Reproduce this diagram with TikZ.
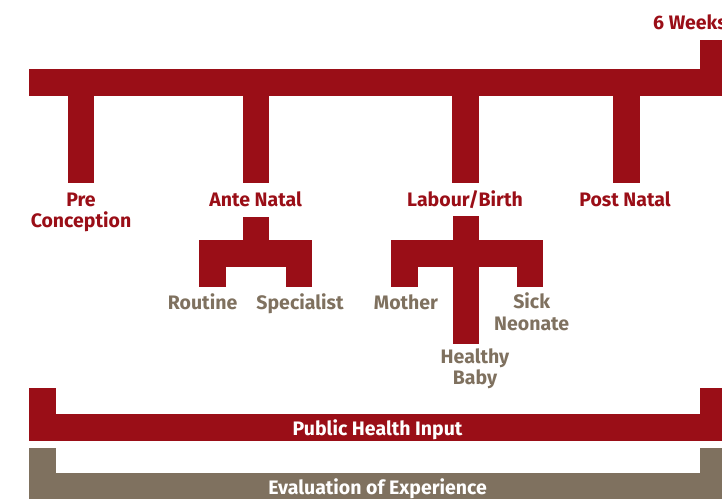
\documentclass[tikz,border=0pt]{standalone}
\usepackage{fontspec}
\setmainfont{Fira Sans}
\definecolor{nhsred}{RGB}{154,14,23}
\definecolor{taupe}{RGB}{127,113,95}
\begin{document}
\begin{tikzpicture}[x=1pt,y=-1pt,
  lbl/.style={font=\bfseries\fontsize{19.5}{21.3}\selectfont,align=center,inner sep=0pt,anchor=base},
  redlbl/.style={lbl,text=nhsred},
  greylbl/.style={lbl,text=taupe},
  whitelbl/.style={lbl,text=white}]
\useasboundingbox (0,0) rectangle (722,499);
% top timeline
\fill[nhsred] (29,69) rectangle (722,95.7);
\fill[nhsred] (700,40) rectangle (722,69);
\fill[nhsred] (67.7,95) rectangle (94.4,183);
\fill[nhsred] (242.7,95) rectangle (269.4,183);
\fill[nhsred] (451.7,95) rectangle (478.9,183);
\fill[nhsred] (612.9,95) rectangle (639.6,183);
% ante natal subtree
\fill[nhsred] (242.7,216.7) rectangle (269.4,241);
\fill[nhsred] (198.5,240.3) rectangle (312,267);
\fill[nhsred] (198.5,266) rectangle (225.6,287.3);
\fill[nhsred] (285.5,266) rectangle (312,287.3);
% labour subtree
\fill[nhsred] (452.7,216) rectangle (479.3,344);
\fill[nhsred] (391.3,240.3) rectangle (543.3,267);
\fill[nhsred] (391.3,266) rectangle (418.3,287.3);
\fill[nhsred] (516.7,266) rectangle (543.3,287.3);
% public health bar
\fill[nhsred] (29,388.3) rectangle (55.7,415);
\fill[nhsred] (700,388.3) rectangle (722,415);
\fill[nhsred] (29,414) rectangle (722,440.7);
% evaluation bar
\fill[taupe] (29,447.7) rectangle (55.7,473.7);
\fill[taupe] (700,447.7) rectangle (722,473.7);
\fill[taupe] (29,472.7) rectangle (722,499);
% labels (two-line nodes are anchored at the baseline of their last line)
\node[redlbl,anchor=base west] (weeks) at (653,29) {6 Weeks};
\node[redlbl] (pre) at (81,227.5) {Pre\\Conception};
\node[redlbl] (ante) at (255.6,206.5) {Ante Natal};
\node[redlbl] (labour) at (465,206.5) {Labour/Birth};
\node[redlbl] (post) at (625,206.5) {Post Natal};
\node[greylbl] (routine) at (202.6,309) {Routine};
\node[greylbl] (spec) at (300,309) {Specialist};
\node[greylbl] (mother) at (406,309) {Mother};
\node[greylbl] (sick) at (531.7,330) {Sick\\Neonate};
\node[greylbl] (healthy) at (475,384.5) {Healthy\\Baby};
\node[whitelbl] (phi) at (377.6,435.5) {Public Health Input};
\node[whitelbl] (eval) at (377.6,494) {Evaluation of Experience};
\end{tikzpicture}
\end{document}
